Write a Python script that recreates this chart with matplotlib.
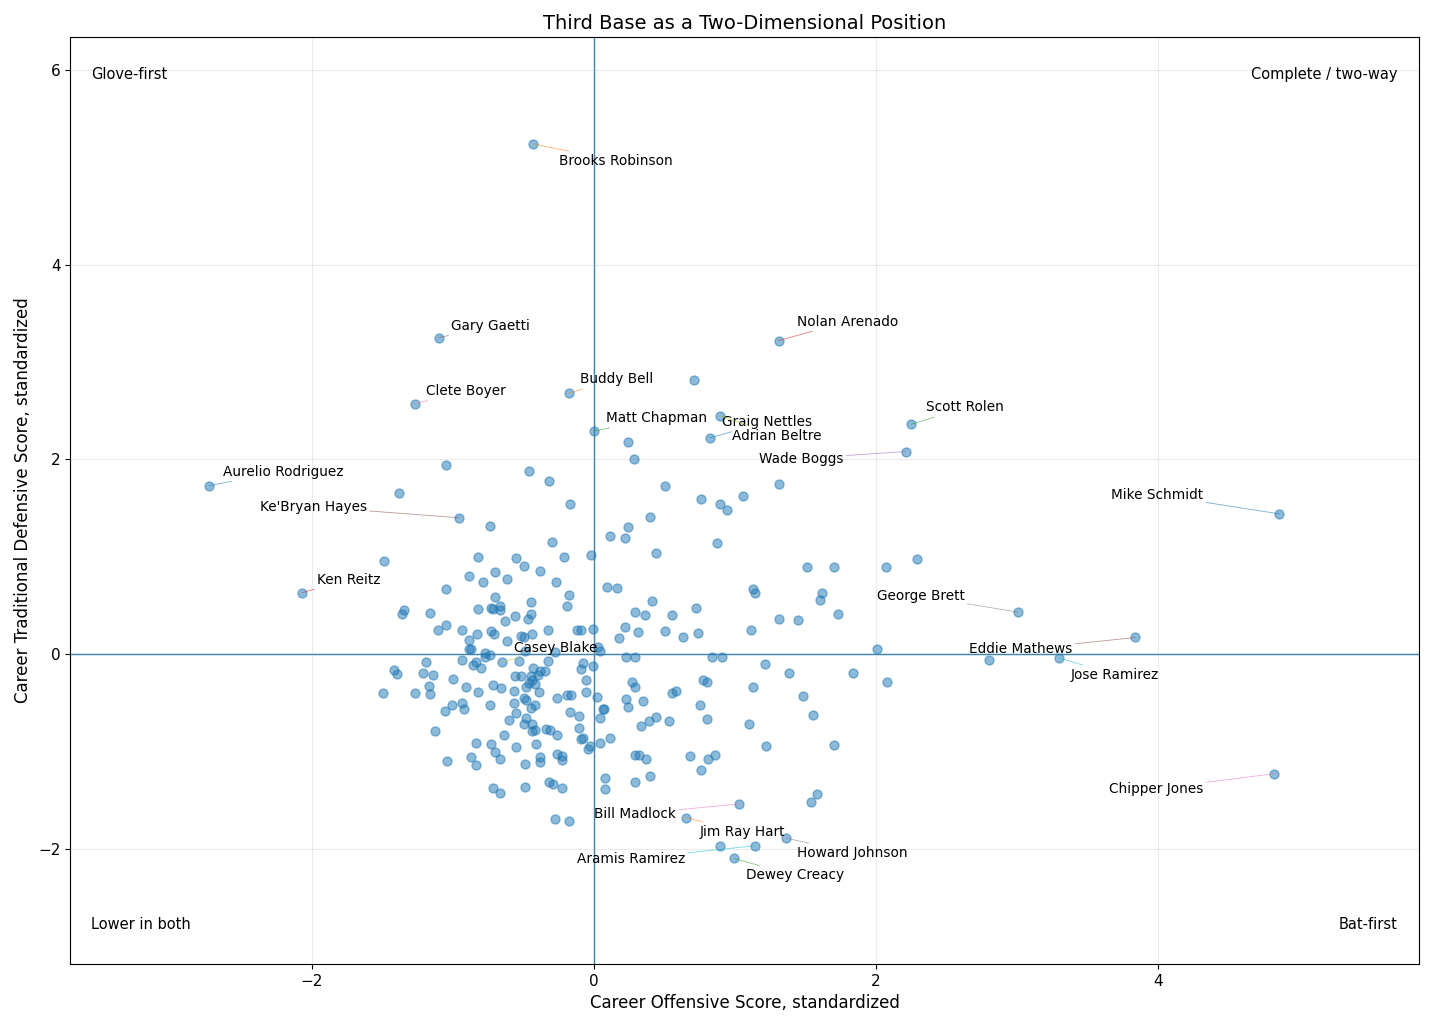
import matplotlib.pyplot as plt
import numpy as np

# labeled players: career offensive / defensive scores (standardized)
names = ["Brooks Robinson", "Gary Gaetti", "Nolan Arenado", "Clete Boyer", "Buddy Bell",
         "Matt Chapman", "Graig Nettles", "Adrian Beltre", "Scott Rolen", "Wade Boggs",
         "Aurelio Rodriguez", "Ke'Bryan Hayes", "Mike Schmidt", "Ken Reitz", "George Brett",
         "Eddie Mathews", "Jose Ramirez", "Casey Blake", "Chipper Jones", "Bill Madlock",
         "Jim Ray Hart", "Howard Johnson", "Aramis Ramirez", "Dewey Creacy"]
lab_off = [-0.43, -1.10, 1.31, -1.27, -0.18, 0.00, 0.82, 0.89, 2.25, 2.21,
           -2.73, -0.96, 4.86, -2.07, 3.01, 3.84, 3.30, -0.65, 4.82, 1.03,
           0.65, 1.36, 1.14, 0.99]
lab_def = [5.24, 3.25, 3.22, 2.57, 2.68, 2.29, 2.22, 2.45, 2.36, 2.08,
           1.73, 1.40, 1.44, 0.63, 0.43, 0.17, -0.04, -0.08, -1.23, -1.54,
           -1.68, -1.89, -1.97, -2.10]

# the rest of the players, grouped roughly by area of the plot
off_a = [-1.05, -0.46, -0.32, -1.38, -0.17, -0.74, -1.49, -0.30, -0.82, -0.55,
         -0.21, -0.02, -0.50, -0.89, -0.70, -0.38, -0.79, -0.62, -0.27, -1.05,
         -0.18, -0.19, -0.70, -1.35, -1.36, -1.16, -0.82, -0.73, -0.72, -0.67,
         -0.67, -0.45, -0.56, -0.45, -0.47, -0.63, -1.11, -1.05, -0.94, -0.83,
         -0.73, -0.71, -0.89, -0.62, -0.52, -0.50, -0.44, -0.33, -0.12, -0.09,
         -0.01, -0.49]
def_a = [1.94, 1.88, 1.78, 1.65, 1.54, 1.32, 0.96, 1.15, 1.00, 0.99,
         1.00, 1.02, 0.90, 0.80, 0.84, 0.85, 0.74, 0.77, 0.74, 0.67,
         0.61, 0.49, 0.59, 0.45, 0.41, 0.42, 0.46, 0.47, 0.46, 0.49,
         0.45, 0.53, 0.39, 0.41, 0.36, 0.34, 0.25, 0.30, 0.25, 0.21,
         0.24, 0.21, 0.14, 0.13, 0.19, 0.17, 0.21, 0.25, 0.25, 0.25,
         0.26, 0.03]

off_b = [-0.89, -0.87, -0.77, -0.74, -0.77, -0.84, -0.86, -0.80, -0.94, -0.53,
         -0.33, -0.28, 0.03, 0.04, -0.08, -0.09, -0.01, -1.00, -0.91, -0.82,
         -0.72, -0.66, -0.56, -0.52, -0.43, -0.38, -0.35, -0.45, -0.40, -0.44,
         -0.46, -0.48, -0.42, -0.39, -0.57, -0.50, -0.48, -0.57, -0.45, -0.42,
         -0.74, -1.06, -0.94, -0.92, -1.01, -0.26, -0.19, -0.16, -0.06, -0.06,
         0.02,
         -1.21, -1.19, -1.14, -1.17, -1.16, -1.27, -1.42, -1.40, -1.50, -1.13, -1.04]
def_b = [0.05, 0.05, 0.01, -0.01, -0.03, -0.08, -0.11, -0.14, -0.06, -0.07,
         -0.07, 0.02, 0.07, 0.03, -0.09, -0.15, -0.12, -0.26, -0.34, -0.39,
         -0.32, -0.35, -0.23, -0.23, -0.14, -0.17, -0.17, -0.23, -0.22, -0.27,
         -0.30, -0.34, -0.31, -0.39, -0.38, -0.45, -0.47, -0.50, -0.55, -0.52,
         -0.52, -0.59, -0.50, -0.57, -0.52, -0.45, -0.42, -0.42, -0.39, -0.27,
         -0.44,
         -0.19, -0.08, -0.22, -0.33, -0.41, -0.40, -0.16, -0.21, -0.40, -0.79, -1.10]

off_c = [-0.60, -0.55, -0.48, -0.50, -0.44, -0.42, -0.44, -0.34, -0.31, -0.26,
         -0.64, -0.84, -0.73, -0.70, -0.67, -0.55, -0.41, -0.87, -0.84, -0.49,
         -0.38, -0.38, -0.26, -0.23, -0.23, -0.72, -0.67, -0.49, -0.32, -0.29,
         -0.23, -0.28, -0.18, -0.17, -0.11, -0.11, -0.09, -0.08, -0.04, -0.03]
def_c = [-0.68, -0.61, -0.66, -0.72, -0.72, -0.78, -0.79, -0.77, -0.78, -0.83,
         -0.83, -0.91, -0.92, -1.01, -1.08, -0.96, -0.92, -1.06, -1.14, -1.13,
         -1.06, -1.11, -1.03, -1.05, -1.09, -1.38, -1.43, -1.37, -1.31, -1.34,
         -1.38, -1.69, -1.72, -0.60, -0.64, -0.76, -0.87, -0.86, -0.98, -0.95]

off_d = [0.24, 0.28, 0.50, 1.31, 0.76, 0.89, 0.94, 1.06, 0.40, 0.24,
         0.11, 0.22, 0.87, 0.44, 1.51, 1.70, 2.07, 0.09, 0.16, 1.13,
         1.14, 1.62, 1.60, 0.41, 0.29, 0.36, 0.55, 0.72, 1.73, 0.22,
         0.18, 0.31, 0.50, 0.63, 0.74, 1.11, 1.31, 1.45, 2.01, 0.71,
         2.29, 2.80]
def_d = [2.18, 2.00, 1.73, 1.75, 1.59, 1.54, 1.48, 1.62, 1.41, 1.30,
         1.21, 1.19, 1.14, 1.04, 0.89, 0.89, 0.89, 0.69, 0.68, 0.67,
         0.63, 0.63, 0.56, 0.54, 0.43, 0.40, 0.40, 0.47, 0.41, 0.28,
         0.16, 0.23, 0.24, 0.17, 0.22, 0.25, 0.36, 0.35, 0.05, 2.81,
         0.98, -0.06]

off_e = [0.23, 0.29, 0.84, 0.91, 1.21, 1.38, 1.84, 2.08, 0.27, 0.29,
         0.77, 0.80, 1.13, 1.48, 0.23, 0.24, 0.35, 0.55, 0.58, 0.75,
         1.55, 0.06, 0.07, 0.04, 0.33, 0.39, 0.44, 0.53, 0.80, 1.10,
         0.11, 0.04, 1.22, 1.70, 0.29, 0.32, 0.37, 0.68, 0.81, 0.86,
         0.76, 0.08, 0.08, 0.29, 0.40, 1.54, 1.58, 0.89]
def_e = [-0.03, -0.03, -0.03, -0.03, -0.10, -0.19, -0.19, -0.29, -0.29, -0.34,
         -0.27, -0.29, -0.34, -0.43, -0.46, -0.54, -0.48, -0.40, -0.38, -0.52,
         -0.63, -0.57, -0.57, -0.66, -0.74, -0.69, -0.65, -0.69, -0.67, -0.72,
         -0.86, -0.91, -0.94, -0.93, -1.04, -1.04, -1.08, -1.05, -1.08, -1.04,
         -1.19, -1.27, -1.39, -1.31, -1.25, -1.52, -1.44, -1.97]

off = np.concatenate([off_a, off_b, off_c, off_d, off_e, lab_off])
dfn = np.concatenate([def_a, def_b, def_c, def_d, def_e, lab_def])

# label offsets in pixels (dx, dy) and alignment
lab_pos = {
    "Brooks Robinson": (26, -17, "left"), "Gary Gaetti": (12, 12, "left"),
    "Nolan Arenado": (18, 19, "left"), "Clete Boyer": (11, 13, "left"),
    "Buddy Bell": (11, 14, "left"), "Matt Chapman": (12, 13, "left"),
    "Graig Nettles": (12, 16, "left"), "Adrian Beltre": (12, -20, "left"),
    "Scott Rolen": (15, 17, "left"), "Wade Boggs": (-62, -7, "right"),
    "Aurelio Rodriguez": (14, 14, "left"), "Ke'Bryan Hayes": (-92, 11, "right"),
    "Mike Schmidt": (-76, 19, "right"), "Ken Reitz": (15, 13, "left"),
    "George Brett": (-54, 16, "right"), "Eddie Mathews": (-63, -12, "right"),
    "Jose Ramirez": (11, -17, "left"), "Casey Blake": (12, 14, "left"),
    "Chipper Jones": (-70, -15, "right"), "Bill Madlock": (-63, -10, "right"),
    "Jim Ray Hart": (14, -14, "left"), "Howard Johnson": (11, -15, "left"),
    "Aramis Ramirez": (-70, -13, "right"), "Dewey Creacy": (12, -17, "left"),
}
line_col = ["tab:orange", "tab:brown", "tab:red", "tab:pink", "tab:orange",
            "tab:green", "tab:blue", "tab:olive", "tab:green", "tab:purple",
            "tab:blue", "tab:brown", "tab:blue", "tab:red", "tab:gray",
            "tab:brown", "tab:cyan", "tab:olive", "tab:pink", "tab:pink",
            "tab:orange", "tab:gray", "tab:cyan", "tab:green"]

fig = plt.figure(figsize=(14.31, 10.27), dpi=100)
ax = fig.add_subplot(111)
fig.subplots_adjust(left=0.049, right=0.9916, top=0.964, bottom=0.0613)

ax.scatter(off, dfn, s=42, alpha=0.5, color="tab:blue", zorder=2)
ax.axhline(0, color="tab:blue", lw=1, zorder=1)
ax.axvline(0, color="tab:blue", lw=1, zorder=1)
ax.grid(alpha=0.25)

for i, nm in enumerate(names):
    dx, dy, ha = lab_pos[nm]
    ax.annotate(nm, (lab_off[i], lab_def[i]), xytext=(dx, dy), textcoords="offset pixels",
                ha=ha, va="center", fontsize=9.8,
                arrowprops=dict(arrowstyle="-", color=line_col[i], lw=0.6, alpha=0.6,
                                shrinkA=0, shrinkB=0))

ax.set_xlim(-3.716, 5.851)
ax.set_ylim(-3.185, 6.339)

ax.text(0.0156, 0.959, "Glove-first", transform=ax.transAxes, fontsize=10.5, va="center")
ax.text(0.984, 0.959, "Complete / two-way", transform=ax.transAxes, fontsize=10.5, va="center", ha="right")
ax.text(0.0156, 0.043, "Lower in both", transform=ax.transAxes, fontsize=10.5, va="center")
ax.text(0.984, 0.043, "Bat-first", transform=ax.transAxes, fontsize=10.5, va="center", ha="right")

ax.tick_params(labelsize=11)
ax.set_title("Third Base as a Two-Dimensional Position", fontsize=14)
ax.set_xlabel("Career Offensive Score, standardized", fontsize=12)
ax.set_ylabel("Career Traditional Defensive Score, standardized", fontsize=12)

fig.savefig("out.png", dpi=100)
